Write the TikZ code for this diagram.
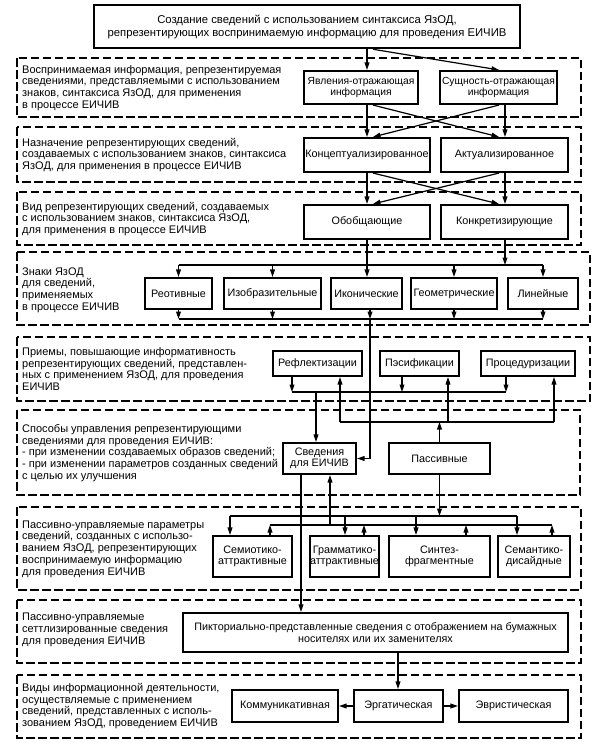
\documentclass[tikz,border=0pt]{standalone}
\usepackage{fontspec}
\setmainfont{Liberation Sans}
\usetikzlibrary{arrows.meta}
\begin{document}
\begin{tikzpicture}[x=1pt,y=-1pt,
  band/.style={draw, dash pattern=on 8.5pt off 3.5pt, line width=1.2pt},
  bx/.style={draw, line width=2.1pt, inner sep=0.5pt, align=center, font=\fontsize{10.8}{11.5}\selectfont},
  bxs/.style={bx, font=\fontsize{10.3}{11.3}\selectfont},
  lbl/.style={anchor=west, align=left, inner sep=0pt, font=\fontsize{11}{11.8}\selectfont},
  arr/.style={line width=1.2pt, -{Triangle[length=7.5pt,width=4.8pt]}},
  ln/.style={line width=1.2pt}
]
\useasboundingbox (0,0) rectangle (606,747);
% guides
\coordinate (gA) at (367,0); \coordinate (gB) at (505,0);
\coordinate (gA2) at (373,0); \coordinate (gB2) at (499,0);
\coordinate (gI) at (370,0);
\coordinate (r1) at (292,0); \coordinate (r2) at (340,0);
\coordinate (p1) at (402,0); \coordinate (p2) at (448,0);
\coordinate (q1) at (506,0); \coordinate (q2) at (554,0);
\coordinate (sv) at (316,0); \coordinate (lp) at (301,0); \coordinate (su) at (330,0);
\coordinate (s1) at (230,0); \coordinate (s2) at (270,0);
\coordinate (m1) at (345,0); \coordinate (m2) at (364,0);
\coordinate (t1) at (416,0); \coordinate (t2) at (466,0);
\coordinate (e1) at (517,0); \coordinate (e2) at (552,0);
\coordinate (er) at (398,0);
\coordinate (tl) at (0,265); \coordinate (bl) at (0,319);
\coordinate (dl) at (0,392); \coordinate (ul) at (0,422);
\coordinate (la) at (0,516); \coordinate (lb) at (0,525);

% bands
\draw[band] (17,58) rectangle (581,117);
\draw[band] (17,127) rectangle (581,182);
\draw[band] (17,192) rectangle (581,245);
\draw[band] (17,252) rectangle (590,325);
\draw[band] (17,337) rectangle (590,401);
\draw[band] (17,410) rectangle (580,495);
\draw[band] (17,507) rectangle (581,590);
\draw[band] (17,600) rectangle (581,663);
\draw[band] (17,675) rectangle (581,738);

% band labels
\node[lbl] (l1) at (22,88) {Воспринимаемая информация, репрезентируемая\\сведениями, представляемыми с использованием\\знаков, синтаксиса ЯзОД, для применения\\в процессе ЕИЧИВ};
\node[lbl] (l2) at (22,155) {Назначение репрезентирующих сведений,\\создаваемых с использованием знаков, синтаксиса\\ЯзОД, для применения в процессе ЕИЧИВ};
\node[lbl] (l3) at (22,219) {Вид репрезентирующих сведений, создаваемых\\с использованием знаков, синтаксиса ЯзОД,\\для применения в процессе ЕИЧИВ};
\node[lbl] (l4) at (22,290) {Знаки ЯзОД\\для сведений,\\применяемых\\в процессе ЕИЧИВ};
\node[lbl] (l5) at (22,369) {Приемы, повышающие информативность\\репрезентирующих сведений, представлен-\\ных с применением ЯзОД, для проведения\\ЕИЧИВ};
\node[lbl] (l6) at (22,453) {Способы управления репрезентирующими\\сведениями для проведения ЕИЧИВ:\\- при изменении создаваемых образов сведений;\\- при изменении параметров созданных сведений\\с целью их улучшения};
\node[lbl] (l7) at (22,549) {Пассивно-управляемые параметры\\сведений, созданных с использо-\\ванием ЯзОД, репрезентирующих\\воспринимаемую информацию\\для проведения ЕИЧИВ};
\node[lbl] (l8) at (22,630) {Пассивно-управляемые\\сеттлизированные сведения\\для проведения ЕИЧИВ};
\node[lbl] (l9) at (22,706) {Виды информационной деятельности,\\осуществляемые с применением\\сведений, представленных с исполь-\\зованием ЯзОД, проведением ЕИЧИВ};

% boxes
\node[bx, line width=2.5pt, font=\fontsize{11.3}{13}\selectfont, minimum width=426pt, minimum height=43pt] (top) at (307,26.5) {Создание сведений с использованием синтаксиса ЯзОД,\\репрезентирующих воспринимаемую информацию для проведения ЕИЧИВ};
\node[bxs, minimum width=114pt, minimum height=33pt] (yav) at (361,87.5) {Явления-отражающая\\информация};
\node[bxs, minimum width=117pt, minimum height=33pt] (sush) at (498.5,87.5) {Сущность-отражающая\\информация};
\node[bx, minimum width=126pt, minimum height=34pt] (konc) at (367,155) {Концептуализированное};
\node[bx, minimum width=127pt, minimum height=34pt] (akt) at (504.5,155) {Актуализированное};
\node[bx, minimum width=126pt, minimum height=34pt] (obob) at (367,222) {Обобщающие};
\node[bx, minimum width=127pt, minimum height=34pt] (konk) at (504.5,222) {Конкретизирующие};
\node[bx, minimum width=67pt, minimum height=31pt] (reot) at (178.5,293.5) {Реотивные};
\node[bx, minimum width=97pt, minimum height=31pt] (izob) at (272.5,293.5) {Изобразительные};
\node[bx, minimum width=71pt, minimum height=31pt] (ikon) at (366.5,293.5) {Иконические};
\node[bx, minimum width=86pt, minimum height=31pt] (geom) at (454,293.5) {Геометрические};
\node[bx, minimum width=70pt, minimum height=31pt] (lin) at (543,293.5) {Линейные};
\node[bx, minimum width=89pt, minimum height=25pt] (refl) at (317.5,363.5) {Рефлектизации};
\node[bx, minimum width=79pt, minimum height=25pt] (pes) at (419.5,363.5) {Пэсификации};
\node[bx, minimum width=94pt, minimum height=25pt] (proc) at (528,363.5) {Процедуризации};
\node[bx, minimum width=73pt, minimum height=31pt] (sved) at (319.5,458.5) {Сведения\\для ЕИЧИВ};
\node[bx, minimum width=101pt, minimum height=31pt] (pass) at (439.5,458.5) {Пассивные};
\node[bx, minimum width=79pt, minimum height=41pt] (semio) at (252.5,556.5) {Семиотико-\\аттрактивные};
\node[bx, inner sep=0pt, minimum width=67pt, minimum height=41pt] (gram) at (344.5,556.5) {Грамматико-\\аттрактивные};
\node[bx, minimum width=101pt, minimum height=41pt] (sint) at (439.5,556.5) {Синтез-\\фрагментные};
\node[bx, minimum width=72pt, minimum height=41pt] (seman) at (534,556.5) {Семантико-\\дисайдные};
\node[bx, minimum width=385pt, minimum height=39pt] (pikt) at (375.5,632.5) {Пикториально-представленные сведения с отображением на бумажных\\носителях или их заменителях};
\node[bx, minimum width=106pt, minimum height=32pt] (komm) at (285,706) {Коммуникативная};
\node[bx, minimum width=89pt, minimum height=32pt] (erg) at (398.5,706) {Эргатическая};
\node[bx, minimum width=109pt, minimum height=32pt] (evr) at (513.5,706) {Эвристическая};

% top -> band 1
\draw[arr] (top.south -| gA) -- (yav.north -| gA);
\draw[arr] (top.south -| gA2) -- (sush.north -| gB2);
% band 1 -> band 2
\draw[arr] (yav.south -| gA) -- (konc.north -| gA);
\draw[arr] (yav.south -| gA2) -- (akt.north -| gB2);
\draw[arr] (sush.south -| gB) -- (akt.north -| gB);
\draw[arr] (sush.south -| gB2) -- (konc.north -| gA2);
% band 2 -> band 3
\draw[arr] (konc.south -| gA) -- (obob.north -| gA);
\draw[arr] (konc.south -| gA2) -- (konk.north -| gB2);
\draw[arr] (akt.south -| gB) -- (konk.north -| gB);
\draw[arr] (akt.south -| gB2) -- (obob.north -| gA2);
% band 3 -> band 4
\draw[ln] (reot.north |- tl) -- (lin.north |- tl);
\draw[arr] (obob.south -| gA) -- (ikon.north -| gA);
\draw[arr] (konk.south -| gB) -- (tl -| gB);
\draw[arr] (reot.north |- tl) -- (reot.north);
\draw[arr] (izob.north |- tl) -- (izob.north);
\draw[arr] (geom.north |- tl) -- (geom.north);
\draw[arr] (lin.north |- tl) -- (lin.north);
\draw[ln] (reot.south |- bl) -- (lin.south |- bl);
\draw[arr] (reot.south) -- (reot.south |- bl);
\draw[arr] (izob.south) -- (izob.south |- bl);
\draw[arr] (ikon.south -| gI) -- (bl -| gI);
\draw[arr] (geom.south) -- (geom.south |- bl);
\draw[arr] (lin.south) -- (lin.south |- bl);
\draw[arr] (bl -| gI) |- (sved.east);
% band 5
\draw[ln] (dl -| r1) -- (dl -| q1);
\draw[arr] (refl.south -| r1) -- (dl -| r1);
\draw[arr] (pes.south -| p1) -- (dl -| p1);
\draw[arr] (proc.south -| q1) -- (dl -| q1);
\draw[arr] (dl -| sv) -- (sved.north -| sv);
\draw[ln] (ul -| r2) -- (ul -| q2);
\draw[arr] (ul -| r2) -- (refl.south -| r2);
\draw[arr] (ul -| p2) -- (pes.south -| p2);
\draw[arr] (ul -| q2) -- (proc.south -| q2);
\draw[arr] (pass.north) -- (pass.north |- ul);
% band 6 -> band 7, 8
\draw[arr] (sved.south -| lp) -- (pikt.north -| lp);
\draw[ln] (la -| s1) -- (la -| e1);
\draw[arr] (pass.south) -- (pass.south |- la);
\draw[arr] (la -| s1) -- (semio.north -| s1);
\draw[arr] (la -| m1) -- (gram.north -| m1);
\draw[arr] (la -| t1) -- (sint.north -| t1);
\draw[arr] (la -| e1) -- (seman.north -| e1);
\draw[ln] (lb -| s2) -- (lb -| e2);
\draw[arr] (semio.north -| s2) -- (lb -| s2);
\draw[arr] (gram.north -| m2) -- (lb -| m2);
\draw[arr] (sint.north -| t2) -- (lb -| t2);
\draw[arr] (seman.north -| e2) -- (lb -| e2);
\draw[arr] (lb -| su) -- (sved.south -| su);
% band 8 -> band 9
\draw[arr] (pikt.south -| er) -- (erg.north -| er);
\draw[arr] (erg.west) -- (komm.east);
\draw[arr] (erg.east) -- (evr.west);
\end{tikzpicture}
\end{document}
